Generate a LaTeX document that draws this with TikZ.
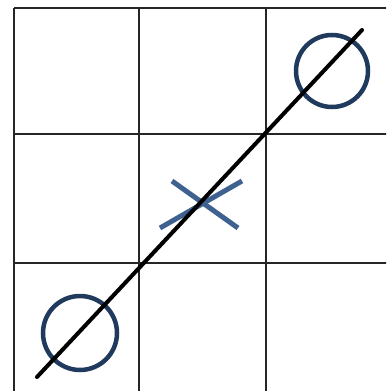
\documentclass[tikz,border=0pt]{standalone}
\usepackage{xcolor}
\usepackage{tikz}
\usetikzlibrary{calc}
\definecolor{omark}{HTML}{1F3A5C}
\definecolor{xmark}{HTML}{3F6190}

\begin{document}
\begin{tikzpicture}[x=1pt, y=-1pt, line cap=butt]
    \useasboundingbox (0,0) rectangle (386,391);
    \clip (0,0) rectangle (386,391);
    % grid
    \foreach \gx in {14,139,266} \draw[line width=1.2pt, black!85] (\gx,8) -- (\gx,400);
    \foreach \gy in {8,134,263} \draw[line width=1.2pt, black!85] (14,\gy) -- (400,\gy);
    % marks
    \coordinate (Otop) at (332,71);
    \coordinate (Obot) at (80,333);
    \coordinate (Xc) at (200,203);
    \draw[line width=4.5pt, omark] (Otop) circle (36);
    \draw[line width=4.5pt, omark] (Obot) circle (37);
    \draw[line width=5pt, xmark] ($(Xc)+(-28,-22)$) -- ($(Xc)+(38,25)$);
    \draw[line width=5pt, xmark] ($(Xc)+(-40,25)$) -- ($(Xc)+(42,-22)$);
    % winning line
    \coordinate (L1) at (37,377);
    \coordinate (L2) at (362,30);
    \draw[line width=4pt, line cap=round] (L1) -- (L2);
\end{tikzpicture}
\end{document}
